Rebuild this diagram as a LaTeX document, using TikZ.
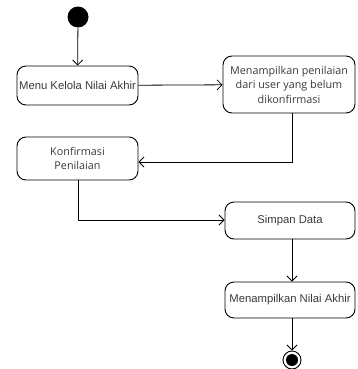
\documentclass[tikz,border=0pt]{standalone}
\usepackage{fontspec}
\setmainfont{Liberation Sans}
\newfontfamily\segoe{Open Sans}
\usetikzlibrary{arrows.meta}
\definecolor{txt}{HTML}{3A3A3A}
\begin{document}
\begin{tikzpicture}[x=1pt,y=-1pt,
  act/.style={draw=black, line width=0.9pt, rounded corners=9pt, fill=white, inner sep=1pt,
    align=center, font=\fontsize{11.3}{13}\selectfont, text=txt},
  seg/.style={font=\segoe\fontsize{10.8}{14.5}\selectfont},
  flow/.style={draw=black, line width=0.8pt, -{Straight Barb[length=5pt,width=10pt,line width=0.8pt]}},
  plain/.style={draw=black, line width=0.8pt}]
\useasboundingbox (0,0) rectangle (357,369);
\node[circle, fill=black, minimum size=21pt, inner sep=0] (start) at (78,17) {};
\node[act, minimum width=121pt, minimum height=39pt] (b1) at (77.5,85.5) {Menu Kelola Nilai Akhir};
\node[act, seg, minimum width=132pt, minimum height=57pt] (b2) at (289,84.5) {Menampilkan penilaian\\dari user yang belum\\dikonfirmasi};
\node[act, seg, minimum width=121pt, minimum height=43pt] (b3) at (77.5,158.5) {Konfirmasi\\Penilaian};
\node[act, minimum width=130pt, minimum height=37pt] (b4) at (290,220.5) {Simpan Data};
\node[act, minimum width=130pt, minimum height=36pt] (b5) at (290,300) {Menampilkan Nilai Akhir};
\node[circle, draw=black, line width=0.9pt, minimum size=18pt, inner sep=0] (end) at (292,360) {};
\node[circle, fill=black, minimum size=12pt, inner sep=0] (endin) at (end.center) {};
\coordinate (c1) at (292,162);
\coordinate (c2) at (78,220);
\draw[flow] (start) -- (b1);
\draw[flow] (b1) -- (b2);
\draw[flow] (b2.south -| c1) -- (c1) -- (c1 -| b3.east);
\draw[flow] (b3.south -| c2) -- (c2) -- (c2 -| b4.west);
\draw[flow] (b4.south -| end) -- (b5.north -| end);
\draw[flow] (b5.south -| end) -- (end);
\end{tikzpicture}
\end{document}
